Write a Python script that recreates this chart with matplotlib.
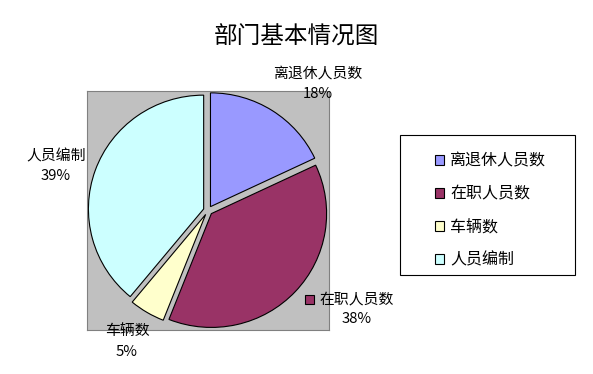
import matplotlib.pyplot as plt
from matplotlib.patches import Rectangle

plt.rcParams['font.family'] = ['Noto Sans CJK SC', 'DejaVu Sans']

categories = ['离退休人员数', '在职人员数', '车辆数', '人员编制']
values = [18, 38, 5, 39]
colors = ['#9999FF', '#993366', '#FFFFCC', '#CCFFFF']

W, H = 593, 374
fig = plt.figure(figsize=(W / 100, H / 100), dpi=100)


def fx(px):
    return px / W


def fy(py):
    return 1 - py / H


# plot area (gray box)
ax = fig.add_axes([fx(87), fy(330), fx(329) - fx(87), fy(91) - fy(330)])

wedges, _ = ax.pie(values, colors=colors, startangle=90, counterclock=False,
                   explode=[0.04] * len(values), frame=True,
                   wedgeprops=dict(edgecolor='black', linewidth=0.8))
ax.set_facecolor('#C0C0C0')
for s in ax.spines.values():
    s.set_color('#808080')
    s.set_linewidth(0.8)
ax.set_xlim(-1.05, 1.05)
ax.set_ylim(-1.05, 1.05)
ax.set_aspect('auto')
ax.set_xticks([])
ax.set_yticks([])

fig.text(0.5, fy(37), '部门基本情况图', ha='center', va='center', fontsize=17)

# data labels
total = sum(values)
label_pos = [(318, 84), (357, 309), (127, 342), (56, 166)]
for name, v, (px, py) in zip(categories, values, label_pos):
    fig.text(fx(px), fy(py), f'{name}\n{v / total * 100:.0f}%', ha='center',
             va='center', fontsize=10.7, linespacing=1.5)
# small legend key in front of the 在职人员数 label
fig.patches.append(Rectangle((fx(305), fy(304)), fx(9), fy(0) - fy(9),
                             transform=fig.transFigure, facecolor=colors[1],
                             edgecolor='black', linewidth=0.8))

# legend box
fig.patches.append(Rectangle((fx(400), fy(275)), fx(575) - fx(400),
                             fy(135) - fy(275), transform=fig.transFigure,
                             facecolor='white', edgecolor='black', linewidth=0.8))
fig.legend(wedges, categories, loc='upper left',
           bbox_to_anchor=(fx(422), fy(140)), frameon=False, fontsize=11.5,
           handlelength=0.6, handleheight=0.6, handletextpad=0.35,
           labelspacing=1.0, borderpad=0.3)

fig.savefig('out.png', dpi=100)
